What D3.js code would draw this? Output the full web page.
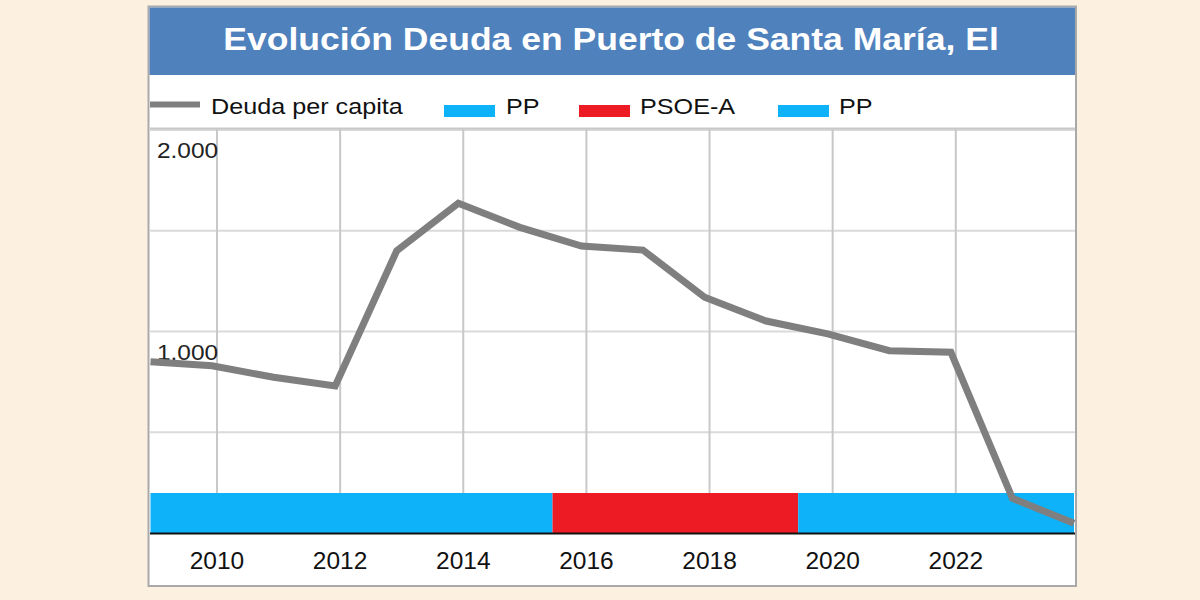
<!DOCTYPE html>
<html>
<head>
<meta charset="utf-8">
<script src="https://cdn.jsdelivr.net/npm/d3@7"></script>
<style>
  html, body { margin: 0; padding: 0; background: #fcf0e0; }
  svg { display: block; }
  text { font-family: "Liberation Sans", Arial, sans-serif; }
</style>
</head>
<body>
<svg id="chart" width="1200" height="600"></svg>
<script>
// ---- data ----
const title = "Evolución Deuda en Puerto de Santa María, El";
const years = [2009, 2010, 2011, 2012, 2013, 2014, 2015, 2016, 2017, 2018, 2019, 2020, 2021, 2022, 2023, 2024];
const debtPerCapita = [850, 830, 773, 730, 1401, 1636, 1517, 1424, 1404, 1170, 1052, 988, 905, 897, 172, 48];
const partyNames = ["PP", "PSOE-A", "PP"];
const partyStart = [2009, 2015.53, 2019.52];
const partyEnd = [2015.53, 2019.52, 2024];
const partyColors = ["#0db2f9", "#ed1c24", "#0db2f9"];
const xTickYears = [2010, 2012, 2014, 2016, 2018, 2020, 2022];
const yGridValues = [500, 1000, 1500, 2000];
const yLabelValues = [1000, 2000];
const yLabelTexts = ["1.000", "2.000"];
const seriesName = "Deuda per capita";

// ---- layout ----
const svg = d3.select("#chart");
const box = { left: 148.5, top: 6.5, right: 1076, bottom: 586 };
const plot = { left: 150, right: 1075, top: 128, bottom: 533 };
const tickOffset = 0.08;

const x = d3.scaleLinear().domain([2009, 2024]).range([150.5, 1074]);
const y = d3.scaleLinear().domain([0, 2000]).range([533, 130]);
const barTop = 493;

// frame
svg.append("rect")
  .attr("x", box.left).attr("y", box.top)
  .attr("width", box.right - box.left).attr("height", box.bottom - box.top)
  .attr("fill", "#ffffff").attr("stroke", "#a9a9a9").attr("stroke-width", 2);

// title band
svg.append("rect")
  .attr("x", 149.5).attr("y", 7.5).attr("width", 925.5).attr("height", 67.5)
  .attr("fill", "#4f81bd");
svg.append("text")
  .attr("transform", "translate(611,50) scale(1.11,1)")
  .attr("text-anchor", "middle")
  .attr("font-size", 32).attr("font-weight", "bold").attr("fill", "#ffffff")
  .text(title);

// legend
const legend = svg.append("g");
legend.append("line")
  .attr("x1", 150).attr("x2", 200).attr("y1", 104.5).attr("y2", 104.5)
  .attr("stroke", "#7f7f7f").attr("stroke-width", 6);
function legendText(xPos, txt) {
  legend.append("text")
    .attr("transform", `translate(${xPos},114) scale(1.12,1)`)
    .attr("font-size", 22.5).attr("fill", "#111")
    .text(txt);
}
legendText(211, seriesName);
const legendSwatchX = [444, 579, 778];
const legendTextX = [506, 640, 839];
partyNames.forEach((p, i) => {
  legend.append("rect")
    .attr("x", legendSwatchX[i]).attr("y", 105).attr("width", 51).attr("height", 12)
    .attr("fill", partyColors[i]);
  legendText(legendTextX[i], p);
});

// horizontal gridlines
svg.append("g").selectAll("line").data(yGridValues).join("line")
  .attr("x1", plot.left).attr("x2", plot.right)
  .attr("y1", d => y(d)).attr("y2", d => y(d))
  .attr("stroke", "#dadada").attr("stroke-width", 2);

// separator at top of plot
svg.append("line")
  .attr("x1", plot.left).attr("x2", plot.right)
  .attr("y1", plot.top + 0.5).attr("y2", plot.top + 0.5)
  .attr("stroke", "#c8c8c8").attr("stroke-width", 2);

// vertical gridlines
svg.append("g").selectAll("line").data(xTickYears).join("line")
  .attr("x1", d => x(d + tickOffset)).attr("x2", d => x(d + tickOffset))
  .attr("y1", plot.top).attr("y2", barTop)
  .attr("stroke", "#c8c8c8").attr("stroke-width", 2);

// y labels
svg.append("g").selectAll("text").data(yLabelValues).join("text")
  .attr("transform", d => `translate(157,${y(d) + 28}) scale(1.11,1)`)
  .attr("font-size", 22).attr("fill", "#222")
  .text((d, i) => yLabelTexts[i]);

// party bars
svg.append("g").selectAll("rect").data(partyNames).join("rect")
  .attr("x", (d, i) => x(partyStart[i]))
  .attr("width", (d, i) => x(partyEnd[i]) - x(partyStart[i]))
  .attr("y", barTop).attr("height", plot.bottom - barTop)
  .attr("fill", (d, i) => partyColors[i]);

// x axis line
svg.append("line")
  .attr("x1", plot.left).attr("x2", plot.right)
  .attr("y1", plot.bottom + 0.5).attr("y2", plot.bottom + 0.5)
  .attr("stroke", "#111").attr("stroke-width", 2);

// x tick labels
svg.append("g").selectAll("text").data(xTickYears).join("text")
  .attr("x", d => x(d + tickOffset)).attr("y", 569)
  .attr("text-anchor", "middle")
  .attr("font-size", 24.5).attr("fill", "#111")
  .text(d => d);

// debt line
const lineGen = d3.line()
  .x((d, i) => x(years[i]))
  .y(d => y(d));
svg.append("path")
  .datum(debtPerCapita)
  .attr("d", lineGen)
  .attr("fill", "none")
  .attr("stroke", "#7f7f7f").attr("stroke-width", 7)
  .attr("stroke-linejoin", "miter");
</script>
</body>
</html>
